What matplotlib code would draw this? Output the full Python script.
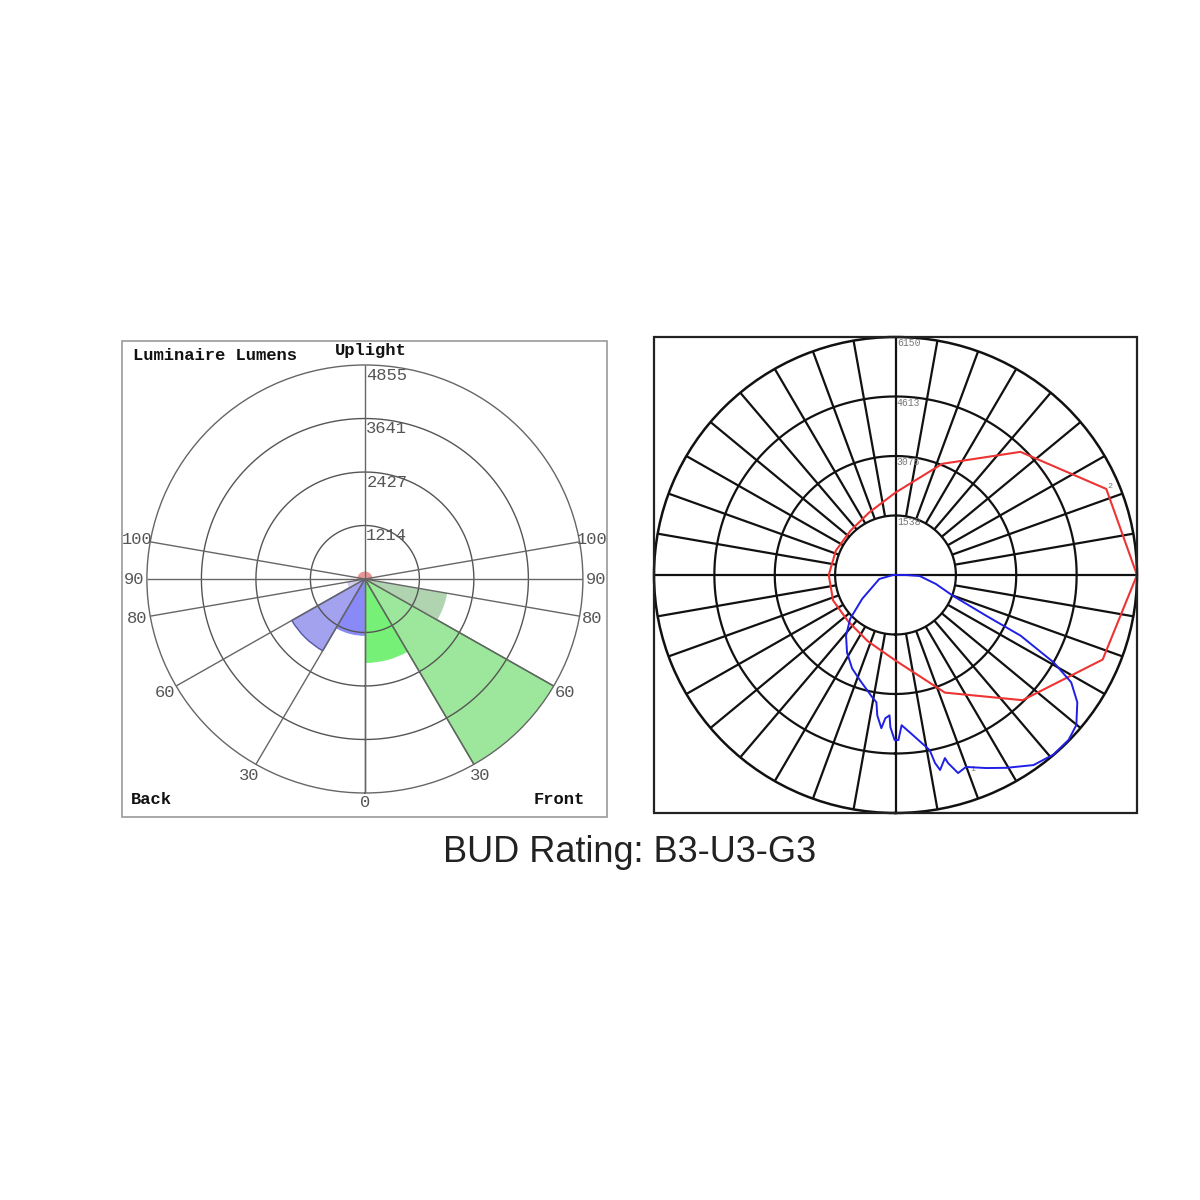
import matplotlib
matplotlib.use("Agg")
import matplotlib.pyplot as plt
import numpy as np
from matplotlib.patches import Rectangle

# ---- left chart: luminaire lumens per BUG zone ----
ZONE_NAMES = ["BL", "BM", "BH", "BVH", "FL", "FM", "FH", "FVH", "UL-B", "UH-B", "UL-F", "UH-F"]
ZONE_FROM_DEG = [-30, -60, -80, -90, 0, 30, 60, 80, -100, -180, 90, 100]
ZONE_TO_DEG = [0, -30, -60, -80, 30, 60, 80, 90, -90, -100, 100, 180]
ZONE_LUMENS = [1290, 1880, 400, 120, 1905, 4900, 1860, 100, 170, 170, 170, 170]
LUMEN_RINGS = [1214, 2427, 3641, 4855]
ANGLE_MARKS = [0, 30, 60, 80, 90, 100]

# ---- right chart: candela traces ----
CD_RINGS = [1538, 3075, 4613, 6150]
# trace 1: vertical plane, angle from nadir (+ = front)
VERT_ANGLES = [-90, -76, -54, -45.6, -38.8, -31.6, -24.6, -18.3, -10.6, -8.4, -7.3,
               -5.2, -4.0, -2.4, -1.9, -0.3, 1.0, 2.3, 5.4, 10.9, 11.7, 12.7, 14.9,
               15.4, 17.3, 19.9, 24.9, 29.6, 35.6, 40.9, 46.0, 49.9, 54.6, 58.2,
               60.7, 63.8, 65.5, 69.8, 77.3, 87.6, 90]
VERT_CANDELA = [60, 425, 1050, 1615, 2010, 2355, 2655, 2870, 3215, 3325, 3655,
                3975, 3710, 3630, 3935, 4265, 4265, 3885, 4105, 4610, 4960, 5165, 4895,
                5040, 5360, 5275, 5500, 5730, 6040, 6140, 6130, 6020, 5680, 5265,
                4625, 3550, 2540, 1560, 1055, 615, 255]
# trace 2: horizontal cone, angle from front (counter-clockwise)
HORIZ_ANGLES = [0, 22.5, 45, 67.5, 90, 112.5, 135, 157.5, 180, 202.5, 225, 247.5,
                270, 292.5, 315, 337.5]
HORIZ_CANDELA = [6150, 5810, 4500, 3110, 2130, 1750, 1620, 1645, 1700, 1720, 1700,
                 1850, 2210, 3290, 4575, 5710]

TITLE = "BUD Rating: B3-U3-G3"

ZONE_COLORS = {
    "BL": "#8383f7", "BM": "#9d9def", "BH": "#d2cbe8", "BVH": "#d2cbe8",
    "FL": "#70f070", "FM": "#98e698", "FH": "#abd2ab", "FVH": "#abd2ab",
    "UL-B": "#e89090", "UH-B": "#e89090", "UL-F": "#e89090", "UH-F": "#e89090",
}
ZONE_EDGES = {"FM": "#2f6f2f", "BM": "#5050a0"}

MONO = "Liberation Mono"
FULL_CIRCLE = np.linspace(0, 2 * np.pi, 361)


def setup_polar(ax, rmax):
    ax.set_theta_zero_location("S")
    ax.set_theta_direction(1)
    ax.set_ylim(0, rmax)
    ax.set_xticks([])
    ax.set_yticks([])
    ax.grid(False)
    ax.set_aspect("auto")
    ax.patch.set_alpha(0)


fig = plt.figure(figsize=(12, 12), dpi=100)
fig.patch.set_facecolor("white")

# frames
fig.add_artist(Rectangle((122 / 1200, 1 - 817 / 1200), 485 / 1200, 476 / 1200,
                         transform=fig.transFigure, fill=False, ec="#9a9a9a", lw=1.2))
fig.add_artist(Rectangle((654 / 1200, 1 - 813 / 1200), 483 / 1200, 476 / 1200,
                         transform=fig.transFigure, fill=False, ec="#222222", lw=1.6))

# ---------------- left chart ----------------
axl = fig.add_axes([(364.9 - 218) / 1200, 1 - (579 + 214) / 1200, 436 / 1200, 428 / 1200],
                   projection="polar")
lmax = LUMEN_RINGS[-1]
setup_polar(axl, lmax)
axl.spines["polar"].set_color("#666666")
axl.spines["polar"].set_linewidth(1.0)

for name, a0, a1, lm in zip(ZONE_NAMES, ZONE_FROM_DEG, ZONE_TO_DEG, ZONE_LUMENS):
    edge = ZONE_EDGES.get(name, "none")
    axl.bar(np.deg2rad(a0), lm, width=np.deg2rad(a1 - a0), align="edge",
            color=ZONE_COLORS[name], edgecolor=edge, linewidth=1.0,
            alpha=0.95, zorder=2)

for r in LUMEN_RINGS[:-1]:
    axl.plot(FULL_CIRCLE, np.full_like(FULL_CIRCLE, r), color="#555555", lw=1.0, zorder=3)

spoke_deg = [s * a for a in ANGLE_MARKS for s in (-1, 1)] + [180]
axl.vlines(np.deg2rad(spoke_deg), 0, lmax, colors="#666666", lw=1.0, zorder=3)

for a in ANGLE_MARKS:
    for s in ((1,) if a == 0 else (-1, 1)):
        rl = lmax * (1.045 if a == 0 else 1.06)
        axl.text(np.deg2rad(s * a), rl, str(a), ha="center", va="center",
                 family=MONO, fontsize=12.3, color="#555555", clip_on=False)

for r in LUMEN_RINGS:
    axl.annotate(str(r), xy=(np.pi, r), xytext=(1, -2), textcoords="offset points",
                 ha="left", va="top", family=MONO, fontsize=12.3, color="#555555",
                 annotation_clip=False, zorder=4)

fig.text(133 / 1200, 1 - 355 / 1200, "Luminaire Lumens", family=MONO, weight="bold",
         fontsize=12.3, ha="left", va="center", color="#111111")
fig.text(335 / 1200, 1 - 351 / 1200, "Uplight", family=MONO, weight="bold",
         fontsize=12.3, ha="left", va="center", color="#111111")
fig.text(131 / 1200, 1 - 800 / 1200, "Back", family=MONO, weight="bold",
         fontsize=12.3, ha="left", va="center", color="#111111")
fig.text(534 / 1200, 1 - 800 / 1200, "Front", family=MONO, weight="bold",
         fontsize=12.3, ha="left", va="center", color="#111111")

# ---------------- right chart ----------------
axr = fig.add_axes([(895.5 - 241.5) / 1200, 1 - (575 + 238) / 1200, 483 / 1200, 476 / 1200],
                   projection="polar")
cmax = CD_RINGS[-1]
setup_polar(axr, cmax)
axr.spines["polar"].set_color("#111111")
axr.spines["polar"].set_linewidth(1.8)

for r in CD_RINGS[:-1]:
    axr.plot(FULL_CIRCLE, np.full_like(FULL_CIRCLE, r), color="#111111", lw=1.6, zorder=2)

spokes = np.arange(0, 360, 10)
inner = [0 if s % 90 == 0 else CD_RINGS[0] for s in spokes]
axr.vlines(np.deg2rad(spokes), inner, cmax, colors="#111111", lw=1.6, zorder=2)

for r in CD_RINGS:
    axr.annotate(str(r), xy=(np.pi, r), xytext=(1, -1), textcoords="offset points",
                 ha="left", va="top", family=MONO, fontsize=7, color="#777777",
                 annotation_clip=False, zorder=3)

h_theta = np.deg2rad(np.array(HORIZ_ANGLES + HORIZ_ANGLES[:1]) + 90)
h_cd = HORIZ_CANDELA + HORIZ_CANDELA[:1]
axr.plot(h_theta, h_cd, color="#ee3333", lw=1.5, zorder=4, clip_on=False)

v_theta = np.deg2rad(VERT_ANGLES + VERT_ANGLES[:1])
v_cd = VERT_CANDELA + VERT_CANDELA[:1]
axr.plot(v_theta, v_cd, color="#1f1fe6", lw=1.4, zorder=5, clip_on=False)

axr.annotate("1", xy=(np.deg2rad(VERT_ANGLES[25]), VERT_CANDELA[25]), xytext=(3, -2),
             textcoords="offset points", family=MONO, fontsize=6, color="#777777",
             ha="left", va="center")
axr.annotate("2", xy=(np.deg2rad(HORIZ_ANGLES[1] + 90), HORIZ_CANDELA[1]), xytext=(1, 2),
             textcoords="offset points", family=MONO, fontsize=6, color="#777777",
             ha="left", va="center")

fig.text(630 / 1200, 1 - 853 / 1200, TITLE, family="Liberation Sans", fontsize=26,
         ha="center", va="center", color="#222222")

fig.savefig("out.png", dpi=100)
